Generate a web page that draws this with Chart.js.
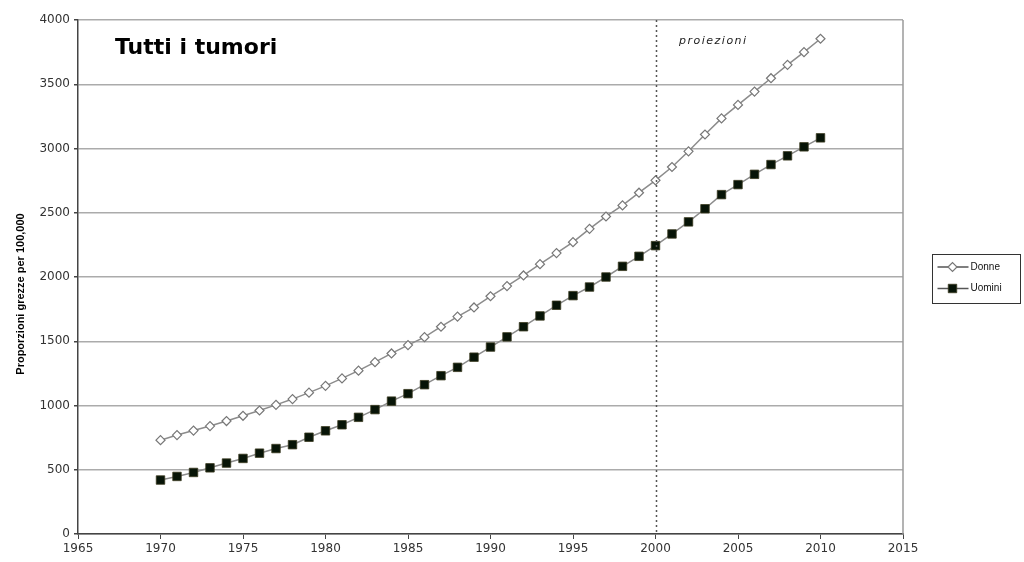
<!DOCTYPE html>
<html>
<head>
<meta charset="utf-8">
<script src="https://cdn.jsdelivr.net/npm/chart.js@4"></script>
<style>
  html, body { margin: 0; padding: 0; background: #fff; }
  #wrap { width: 1024px; height: 562px; position: relative; }
</style>
</head>
<body>
<div id="wrap"><canvas id="chart"></canvas></div>
<script>
const years = [1970, 1971, 1972, 1973, 1974, 1975, 1976, 1977, 1978, 1979,
  1980, 1981, 1982, 1983, 1984, 1985, 1986, 1987, 1988, 1989,
  1990, 1991, 1992, 1993, 1994, 1995, 1996, 1997, 1998, 1999,
  2000, 2001, 2002, 2003, 2004, 2005, 2006, 2007, 2008, 2009, 2010];
const donne = [730, 770, 805, 840, 879, 920, 961, 1005, 1050, 1100,
  1153, 1211, 1271, 1337, 1405, 1470, 1532, 1613, 1692, 1763,
  1850, 1929, 2012, 2100, 2186, 2271, 2375, 2471, 2557, 2656,
  2752, 2856, 2978, 3109, 3234, 3339, 3443, 3547, 3651, 3750, 3854];
const uomini = [420, 448, 479, 515, 552, 588, 629, 665, 695, 753,
  803, 850, 908, 968, 1034, 1092, 1162, 1232, 1297, 1376,
  1455, 1534, 1613, 1697, 1780, 1855, 1922, 2000, 2083, 2161,
  2244, 2335, 2429, 2531, 2641, 2719, 2799, 2875, 2943, 3013, 3083];
const seriesNames = ["Donne", "Uomini"];
const projectionYear = 2000;
const chartTitle = "Tutti i tumori";
const projectionLabel = "proiezioni";
const yTitle = "Proporzioni grezze per 100,000";

const lineGray = "#8c8c8c";
const tickFont = { family: "'DejaVu Sans', sans-serif", size: 12 };

const toPoints = (vals) => years.map((y, i) => ({ x: y, y: vals[i] }));

// title, projection marker, y title, right border and legend
const decorations = {
  id: "decorations",
  afterDraw(chart) {
    const { ctx, chartArea: a, scales } = chart;
    ctx.save();
    // right border of plot
    ctx.strokeStyle = "#9a9a9a";
    ctx.lineWidth = 1.5;
    ctx.beginPath();
    ctx.moveTo(a.right, a.top);
    ctx.lineTo(a.right, a.bottom);
    ctx.stroke();
    // dotted projection line
    const px = Math.round(scales.x.getPixelForValue(projectionYear)) + 0.5;
    ctx.strokeStyle = "#555";
    ctx.lineWidth = 1.5;
    ctx.setLineDash([2, 3]);
    ctx.beginPath();
    ctx.moveTo(px, a.top);
    ctx.lineTo(px, a.bottom);
    ctx.stroke();
    ctx.setLineDash([]);
    // chart title inside plot
    ctx.fillStyle = "#000";
    ctx.font = "bold 22px 'DejaVu Sans', sans-serif";
    ctx.textBaseline = "alphabetic";
    ctx.textAlign = "left";
    ctx.fillText(chartTitle, 115, 54);
    // projection label
    ctx.font = "italic 11px 'DejaVu Sans', sans-serif";
    ctx.letterSpacing = "1.5px";
    ctx.fillStyle = "#222";
    ctx.fillText(projectionLabel, 679, 44);
    ctx.letterSpacing = "0px";
    // y axis title
    ctx.save();
    ctx.translate(21, 294);
    ctx.rotate(-Math.PI / 2);
    ctx.textAlign = "center";
    ctx.textBaseline = "middle";
    ctx.font = "bold 11px 'Liberation Sans Narrow', 'Liberation Sans', sans-serif";
    ctx.fillStyle = "#000";
    ctx.fillText(yTitle, 0, 0);
    ctx.restore();
    // legend
    const lx = 932.5, ly = 254.5, lw = 88, lh = 49;
    ctx.strokeStyle = "#333";
    ctx.lineWidth = 1;
    ctx.strokeRect(lx, ly, lw, lh);
    const rows = [ly + 12.5, ly + 34];
    chart.data.datasets.forEach((ds, i) => {
      const y = rows[i];
      const cx = lx + 20;
      ctx.strokeStyle = "#555";
      ctx.lineWidth = 1.5;
      ctx.beginPath();
      ctx.moveTo(lx + 5, y);
      ctx.lineTo(lx + 36, y);
      ctx.stroke();
      ctx.fillStyle = ds.pointBackgroundColor;
      ctx.strokeStyle = ds.pointBorderColor;
      ctx.lineWidth = ds.pointBorderWidth;
      ctx.beginPath();
      if (ds.pointStyle === "rect") {
        const s = ds.pointRadius * Math.SQRT1_2;
        ctx.rect(cx - s, y - s, 2 * s, 2 * s);
      } else {
        const r = ds.pointRadius;
        ctx.moveTo(cx - r, y);
        ctx.lineTo(cx, y - r);
        ctx.lineTo(cx + r, y);
        ctx.lineTo(cx, y + r);
        ctx.closePath();
      }
      ctx.fill();
      ctx.stroke();
      ctx.fillStyle = "#111";
      ctx.font = "10px 'Liberation Sans', Arial, sans-serif";
      ctx.textAlign = "left";
      ctx.textBaseline = "middle";
      ctx.fillText(ds.label, lx + 38, y);
    });
    ctx.restore();
  },
};

new Chart(document.getElementById("chart"), {
  type: "line",
  data: {
    datasets: [
      {
        label: seriesNames[0],
        data: toPoints(donne),
        borderColor: lineGray,
        borderWidth: 1.5,
        pointStyle: "rectRot",
        pointRadius: 4.5,
        pointBackgroundColor: "#ffffff",
        pointBorderColor: "#777777",
        pointBorderWidth: 1.2,
        tension: 0,
      },
      {
        label: seriesNames[1],
        data: toPoints(uomini),
        borderColor: lineGray,
        borderWidth: 1.5,
        pointStyle: "rect",
        pointRadius: 6,
        pointBackgroundColor: "#071407",
        pointBorderColor: "#3a3a20",
        pointBorderWidth: 0.8,
        tension: 0,
      },
    ],
  },
  options: {
    responsive: true,
    maintainAspectRatio: false,
    animation: false,
    layout: { padding: { top: 20, right: 121, left: 0, bottom: 0 } },
    plugins: {
      legend: { display: false },
      tooltip: { enabled: false },
    },
    scales: {
      x: {
        type: "linear",
        min: 1965,
        max: 2015,
        afterFit: (s) => { s.height = 28; },
        ticks: {
          stepSize: 5,
          color: "#333",
          font: tickFont,
          padding: 3,
          callback: (v) => String(v),
        },
        grid: {
          drawOnChartArea: false,
          drawTicks: true,
          tickLength: 5,
          tickColor: "#444",
        },
        border: { color: "#444", width: 1.5 },
      },
      y: {
        min: 0,
        max: 4000,
        afterFit: (s) => { s.width = 78; },
        ticks: {
          stepSize: 500,
          color: "#333",
          font: tickFont,
          padding: 4,
          callback: (v) => String(v),
        },
        grid: {
          color: "#ababab",
          lineWidth: 1.5,
          tickLength: 4,
          tickColor: "#444",
        },
        border: { color: "#444", width: 1.5 },
      },
    },
  },
  plugins: [decorations],
});
</script>
</body>
</html>
